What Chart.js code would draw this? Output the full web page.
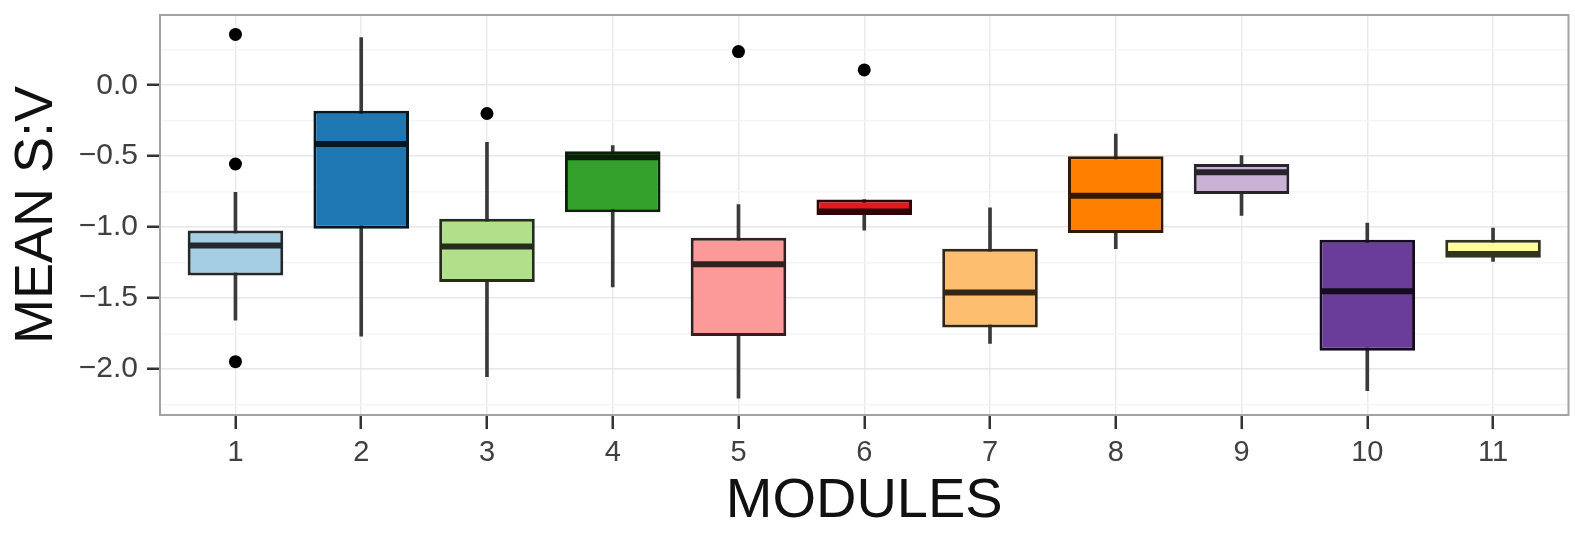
<!DOCTYPE html>
<html><head><meta charset="utf-8">
<script src="https://cdn.jsdelivr.net/npm/chart.js@4/dist/chart.umd.min.js"></script>
<style>html,body{margin:0;padding:0;background:#fff;}canvas{display:block;}</style>
</head><body>
<canvas id="c" width="1575" height="534"></canvas>
<script>
// ---- data ----
const modules = ['1','2','3','4','5','6','7','8','9','10','11'];
const modulePos = [1,2,3,4,5,6,7,8,9,10,11];
const whiskerLow  = [-1.656,-1.768,-2.054,-1.421,-2.206,-1.022,-1.820,-1.152,-0.918,-2.152,-1.241];
const q1          = [-1.340,-1.012,-1.386,-0.895,-1.768,-0.915,-1.707,-1.042,-0.766,-1.871,-1.215];
const median      = [-1.129,-0.415,-1.136,-0.508,-1.262,-0.890,-1.461,-0.778,-0.614,-1.452,-1.190];
const q3          = [-1.023,-0.180,-0.941,-0.466,-1.075,-0.805,-1.152,-0.501,-0.555,-1.089,-1.089];
const whiskerHigh = [-0.754, 0.335,-0.403,-0.426,-0.841,-0.805,-0.864,-0.344,-0.496,-0.972,-1.007];
const outlierModule = [1, 1, 1, 3, 5, 6];
const outlierValue  = [0.358,-0.555,-1.948,-0.199,0.237,0.108];
const yTickValues = [-2.0,-1.5,-1.0,-0.5,0.0];
const yTickLabels = ['\u22122.0','\u22121.5','\u22121.0','\u22120.5','0.0'];
const yMinorValues = [-2.25,-1.75,-1.25,-0.75,-0.25,0.25];
const yTitle = 'MEAN S:V';
const xTitle = 'MODULES';

// ---- styles ----
const fillColors = ['#A6CEE3','#1F78B4','#B2DF8A','#33A02C','#FB9A99','#E31A1C','#FDBF6F','#FF7F00','#CAB2D6','#6A3D9A','#FFFF99'];
function darken(hex, f){
  const n = parseInt(hex.slice(1),16);
  const r = Math.round(((n>>16)&255)*f), g = Math.round(((n>>8)&255)*f), b = Math.round((n&255)*f);
  return 'rgb('+r+','+g+','+b+')';
}
const outlineColors = fillColors.map(c => darken(c, 0.2));
const whiskerColors = fillColors.map(() => '#3a3a3a');
const FONT = "'Liberation Sans', Arial, Helvetica, sans-serif";

const whiskerData = modulePos.map((x,i)=>({x:x, y:[whiskerLow[i], whiskerHigh[i]]}));
const boxData = modulePos.map((x,i)=>({x:x, y:[q1[i], q3[i]]}));
const outlierData = outlierModule.map((m,i)=>({x:m, y:outlierValue[i]}));
const yAllTicks = yTickValues.concat(yMinorValues).sort((a,b)=>a-b);
const isMajor = v => yTickValues.some(t => Math.abs(t - v) < 1e-9);

const medianPlugin = {
  id: 'medians',
  afterDatasetsDraw(chart){
    const meta = chart.getDatasetMeta(1);
    const ys = chart.scales.y;
    const ctx = chart.ctx;
    ctx.save();
    meta.data.forEach((bar,i)=>{
      const py = ys.getPixelForValue(median[i]);
      const half = bar.width/2;
      ctx.strokeStyle = outlineColors[i];
      ctx.lineWidth = 6;
      ctx.beginPath();
      ctx.moveTo(bar.x - half + 1.5, py);
      ctx.lineTo(bar.x + half - 1.5, py);
      ctx.stroke();
    });
    ctx.restore();
  }
};
const borderPlugin = {
  id: 'panelBorder',
  afterDraw(chart){
    const a = chart.chartArea, ctx = chart.ctx;
    ctx.save();
    ctx.strokeStyle = '#a3a3a3';
    ctx.lineWidth = 2;
    ctx.strokeRect(a.left, a.top, a.right - a.left, a.bottom - a.top);
    ctx.restore();
  }
};

new Chart(document.getElementById('c'), {
  type: 'bar',
  data: {
    datasets: [
      { type:'bar', data: whiskerData, backgroundColor: whiskerColors, borderWidth: 0,
        barThickness: 3, grouped: false, order: 3 },
      { type:'bar', data: boxData, backgroundColor: fillColors, borderColor: outlineColors,
        borderWidth: 3, borderSkipped: false, barPercentage: 0.76, categoryPercentage: 1,
        grouped: false, order: 2 },
      { type:'scatter', data: outlierData, backgroundColor: '#000', borderWidth: 0,
        pointRadius: 6.5, order: 1 }
    ]
  },
  options: {
    responsive: false,
    animation: false,
    events: [],
    layout: { padding: { top: 15, right: 4, left: 0, bottom: 0 } },
    plugins: { legend: { display: false }, tooltip: { enabled: false } },
    scales: {
      x: {
        type: 'linear', min: 0.4, max: 11.6, offset: false,
        afterBuildTicks: s => { s.ticks = modulePos.map(v => ({value: v})); },
        afterFit: s => { s.height = 119; s.paddingLeft = 0; s.paddingRight = 0; },
        ticks: { autoSkip: false, maxRotation: 0, padding: 7, color: '#404040',
          font: { family: FONT, size: 29 },
          callback: (v) => modules[modulePos.indexOf(v)] },
        grid: { offset: false, color: '#ebebeb', lineWidth: 1.5, tickColor: '#333', tickWidth: 2.5, tickLength: 14, drawTicks: true },
        border: { display: false },
        title: { display: true, text: xTitle, color: '#111',
          font: { family: FONT, size: 56, lineHeight: 1 }, padding: { top: 0, bottom: 4 } }
      },
      y: {
        type: 'linear', min: -2.324, max: 0.495,
        afterBuildTicks: s => { s.ticks = yAllTicks.map(v => ({value: v})); },
        afterFit: s => { s.width = 160; s.paddingTop = 0; s.paddingBottom = 0; },
        ticks: { autoSkip: false, padding: 9, color: '#404040',
          font: { family: FONT, size: 30 },
          callback: (v) => { const k = yTickValues.findIndex(t => Math.abs(t - v) < 1e-9); return k >= 0 ? yTickLabels[k] : ''; } },
        grid: {
          color: c => isMajor(c.tick.value) ? '#e8e8e8' : '#f5f5f5',
          lineWidth: 1.5,
          tickColor: c => isMajor(c.tick.value) ? '#333' : 'rgba(0,0,0,0)',
          tickWidth: 2.5, tickLength: 13
        },
        border: { display: false },
        title: { display: true, text: yTitle, color: '#111',
          font: { family: FONT, size: 54, lineHeight: 1 }, padding: { top: 10, bottom: 0 } }
      }
    }
  },
  plugins: [medianPlugin, borderPlugin]
});
</script>
</body></html>
